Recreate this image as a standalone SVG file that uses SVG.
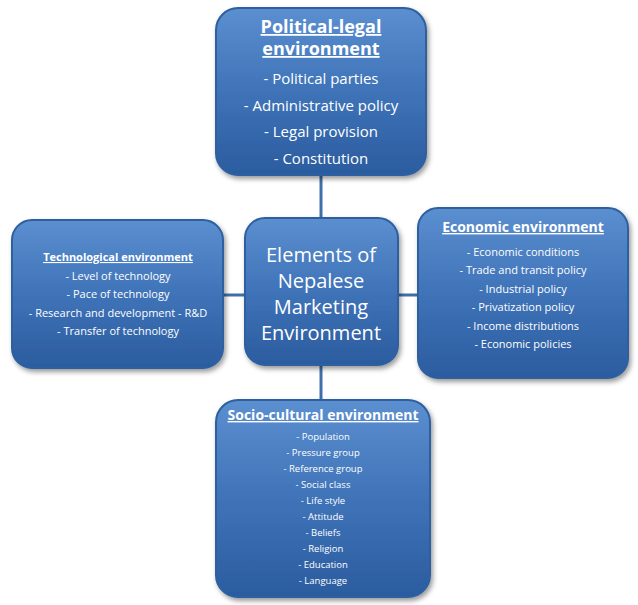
<svg xmlns="http://www.w3.org/2000/svg" width="638" height="605" viewBox="0 0 638 605">
<defs>
<linearGradient id="g" x1="0" y1="0" x2="0" y2="1">
<stop offset="0" stop-color="#5b8fd0"/><stop offset="0.5" stop-color="#3f73b8"/><stop offset="1" stop-color="#2b5c9f"/>
</linearGradient>
<filter id="s" x="-10%" y="-10%" width="125%" height="125%"><feDropShadow dx="2" dy="3" stdDeviation="2.5" flood-color="#000" flood-opacity="0.4"/></filter>
</defs>
<style>
.box{fill:url(#g);stroke:#2e5f9f;stroke-width:2;filter:url(#s)}
text{font-family:"Open Sans","Liberation Sans",sans-serif;fill:#fff;text-anchor:middle}
.t{font-weight:bold;text-decoration:underline}
.c{stroke:#3f6fa8;stroke-width:3}
</style>
<rect width="638" height="605" fill="#fff"/>
<g id="connectors">
<line class="c" x1="321" y1="175" x2="321" y2="218"/>
<line class="c" x1="321" y1="365" x2="321" y2="400"/>
<line class="c" x1="223" y1="295" x2="245" y2="295"/>
<line class="c" x1="398" y1="295" x2="418" y2="295"/>
</g>
<g id="political">
<rect class="box" x="216" y="8" width="210" height="167" rx="22"/>
<text class="t" x="321" y="33" font-size="18">Political-legal</text>
<text class="t" x="321" y="55" font-size="18">environment</text>
<text x="321" y="84" font-size="15">- Political parties</text>
<text x="321" y="111" font-size="15">- Administrative policy</text>
<text x="321" y="137" font-size="15">- Legal provision</text>
<text x="321" y="164" font-size="15">- Constitution</text>
</g>
<g id="center">
<rect class="box" x="245" y="218" width="153" height="147" rx="20"/>
<text x="321" y="262" font-size="20">Elements of</text>
<text x="321" y="288" font-size="20">Nepalese</text>
<text x="321" y="314" font-size="20">Marketing</text>
<text x="321" y="340" font-size="20">Environment</text>
</g>
<g id="technological">
<rect class="box" x="12" y="220" width="211" height="148" rx="20"/>
<text class="t" x="118" y="261" font-size="11">Technological environment</text>
<text x="118" y="280" font-size="11">- Level of technology</text>
<text x="118" y="298" font-size="11">- Pace of technology</text>
<text x="118" y="317" font-size="11">- Research and development - R&amp;D</text>
<text x="118" y="335" font-size="11">- Transfer of technology</text>
</g>
<g id="economic">
<rect class="box" x="418" y="208" width="210" height="170" rx="20"/>
<text class="t" x="523" y="232" font-size="14">Economic environment</text>
<text x="523" y="256" font-size="11">- Economic conditions</text>
<text x="523" y="274" font-size="11">- Trade and transit policy</text>
<text x="523" y="293" font-size="11">- Industrial policy</text>
<text x="523" y="311" font-size="11">- Privatization policy</text>
<text x="523" y="330" font-size="11">- Income distributions</text>
<text x="523" y="348" font-size="11">- Economic policies</text>
</g>
<g id="sociocultural">
<rect class="box" x="216" y="400" width="214" height="197" rx="22"/>
<text class="t" x="323" y="420" font-size="14">Socio-cultural environment</text>
<text x="323" y="440" font-size="9.5">- Population</text>
<text x="323" y="456" font-size="9.5">- Pressure group</text>
<text x="323" y="472" font-size="9.5">- Reference group</text>
<text x="323" y="488" font-size="9.5">- Social class</text>
<text x="323" y="504" font-size="9.5">- Life style</text>
<text x="323" y="520" font-size="9.5">- Attitude</text>
<text x="323" y="536" font-size="9.5">- Beliefs</text>
<text x="323" y="552" font-size="9.5">- Religion</text>
<text x="323" y="568" font-size="9.5">- Education</text>
<text x="323" y="584" font-size="9.5">- Language</text>
</g>
</svg>
